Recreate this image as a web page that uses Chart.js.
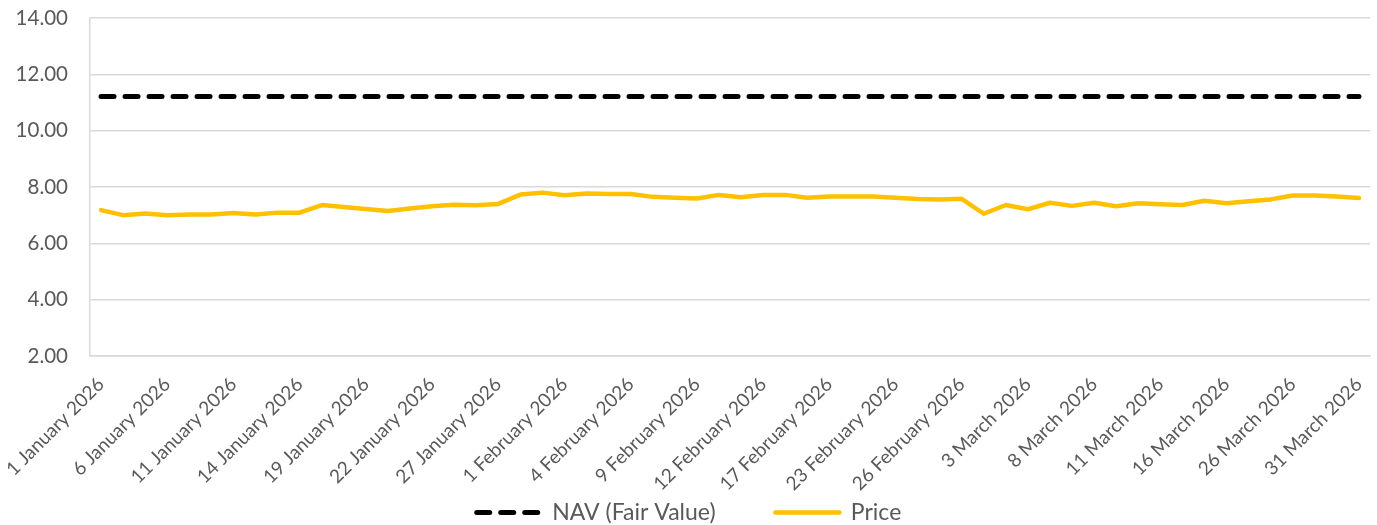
<!DOCTYPE html>
<html>
<head>
<meta charset="utf-8">
<script src="https://cdn.jsdelivr.net/npm/chart.js@4.4.1/dist/chart.umd.min.js"></script>
<style>
    body { margin: 0; background: #ffffff; }
    #wrap { width: 1377px; height: 525px; }
</style>
</head>
<body>
<div id="wrap"><canvas id="chart1"></canvas></div>
<script>
var dates = ['1 January 2026', '2 January 2026', '5 January 2026', '6 January 2026', '7 January 2026', '8 January 2026',
    '11 January 2026', '12 January 2026', '13 January 2026', '14 January 2026', '15 January 2026', '16 January 2026',
    '19 January 2026', '20 January 2026', '21 January 2026', '22 January 2026', '23 January 2026', '26 January 2026',
    '27 January 2026', '28 January 2026', '29 January 2026', '1 February 2026', '2 February 2026', '3 February 2026',
    '4 February 2026', '5 February 2026', '6 February 2026', '9 February 2026', '10 February 2026', '11 February 2026',
    '12 February 2026', '13 February 2026', '16 February 2026', '17 February 2026', '18 February 2026', '20 February 2026',
    '23 February 2026', '24 February 2026', '25 February 2026', '26 February 2026', '27 February 2026', '2 March 2026',
    '3 March 2026', '4 March 2026', '5 March 2026', '8 March 2026', '9 March 2026', '10 March 2026',
    '11 March 2026', '12 March 2026', '13 March 2026', '16 March 2026', '19 March 2026', '23 March 2026',
    '26 March 2026', '27 March 2026', '30 March 2026', '31 March 2026'];

var price = [7.18, 7.00, 7.06, 7.00, 7.02, 7.02, 7.08, 7.02, 7.09, 7.09,
    7.36, 7.29, 7.22, 7.15, 7.24, 7.32, 7.37, 7.35, 7.40, 7.73,
    7.80, 7.71, 7.77, 7.75, 7.75, 7.65, 7.62, 7.59, 7.72, 7.64,
    7.72, 7.72, 7.62, 7.66, 7.66, 7.66, 7.62, 7.57, 7.56, 7.58,
    7.05, 7.36, 7.21, 7.44, 7.33, 7.44, 7.32, 7.42, 7.39, 7.36,
    7.51, 7.42, 7.49, 7.56, 7.70, 7.70, 7.66, 7.61];

var nav = dates.map(function () { return 11.21; });

var yTicks = [2, 4, 6, 8, 10, 12, 14];

var grey = '#595959';

const ctx1 = document.getElementById('chart1').getContext('2d');
const chart1 = new Chart(ctx1, {
    type: 'line',
    data: {
        labels: dates,
        datasets: [
            {
                label: 'NAV (Fair Value)',
                data: nav,
                borderColor: '#000000',
                backgroundColor: '#000000',
                borderWidth: 5,
                borderDash: [13, 11],
                borderCapStyle: 'round',
                pointRadius: 0,
                tension: 0
            },
            {
                label: 'Price',
                data: price,
                borderColor: '#FFC000',
                backgroundColor: '#FFC000',
                borderWidth: 4.5,
                borderCapStyle: 'round',
                borderJoinStyle: 'round',
                pointRadius: 0,
                tension: 0
            }
        ]
    },
    options: {
        responsive: true,
        maintainAspectRatio: false,
        animation: false,
        layout: { padding: { left: 8, right: 7, top: 0, bottom: -9 } },
        plugins: {
            legend: {
                position: 'bottom',
                labels: {
                    usePointStyle: true,
                    pointStyle: 'line',
                    pointStyleWidth: 64,
                    boxHeight: 20,
                    color: grey,
                    font: { family: 'Lato', size: 23 },
                    padding: 8,
                    generateLabels: function (chart) {
                        var items = Chart.defaults.plugins.legend.labels.generateLabels(chart);
                        items.forEach(function (item) {
                            var ds = chart.data.datasets[item.datasetIndex];
                            item.lineDash = ds.borderDash || [];
                            item.lineWidth = ds.borderWidth;
                            item.strokeStyle = ds.borderColor;
                            item.lineCap = 'round';
                            // wider gap after the first entry
                            if (item.datasetIndex === 0) item.text = ds.label + '\u2003\u2003\u2003';
                        });
                        return items;
                    }
                }
            },
            tooltip: { enabled: false }
        },
        scales: {
            x: {
                offset: true,
                grid: { display: false },
                border: { display: true, color: '#d9d9d9', width: 1.5 },
                afterFit: function (axis) {
                    axis.paddingLeft = 0;
                    axis.paddingRight = 0;
                    axis.height = 137;
                },
                ticks: {
                    autoSkip: false,
                    maxRotation: 45,
                    minRotation: 45,
                    color: grey,
                    font: { family: 'Lato', size: 19 },
                    padding: 9,
                    callback: function (value, index) {
                        return index % 3 === 0 ? this.getLabelForValue(value) : '';
                    }
                }
            },
            y: {
                min: yTicks[0],
                max: yTicks[yTicks.length - 1],
                afterBuildTicks: function (axis) {
                    axis.ticks = yTicks.map(function (v) { return { value: v }; });
                },
                afterFit: function (axis) {
                    axis.width = 82;
                    axis.paddingTop = 18;
                    axis.paddingBottom = 0;
                },
                grid: { color: '#d9d9d9', lineWidth: 1.5, drawTicks: false },
                border: { display: true, color: '#d9d9d9', width: 1.5 },
                ticks: {
                    color: grey,
                    font: { family: 'Lato', size: 20.5 },
                    padding: 22,
                    callback: function (value) { return value.toFixed(2); }
                }
            }
        }
    }
});
</script>
</body>
</html>
